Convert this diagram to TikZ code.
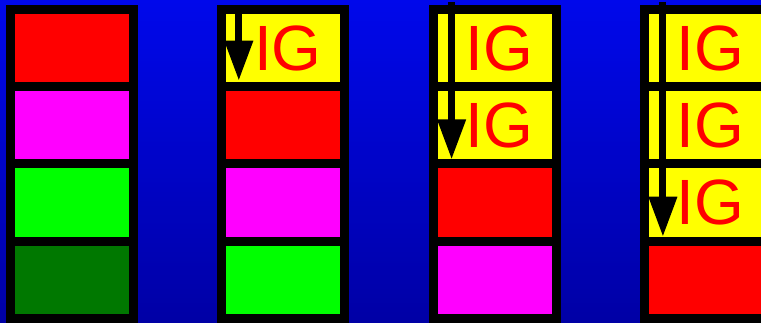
\documentclass[tikz,border=0pt]{standalone}
\usepackage{fontspec}
\setmainfont{Liberation Sans}
\usepackage{xcolor}
\usepackage{tikz}
\usetikzlibrary{arrows.meta,positioning,calc}
\definecolor{skytop}{RGB}{0,8,235}
\definecolor{skybot}{RGB}{0,0,165}
\definecolor{hotred}{RGB}{255,0,0}
\definecolor{hotpink}{RGB}{255,0,255}
\definecolor{lime}{RGB}{0,255,0}
\definecolor{forest}{RGB}{0,120,0}
\definecolor{lemon}{RGB}{255,255,0}
\tikzset{
  cell/.style={rectangle,draw=black,line width=9pt,outer sep=0pt,inner sep=0pt,
               minimum width=123pt,minimum height=77.25pt},
  igcell/.style={cell,fill=lemon,text=hotred,font=\fontsize{64}{64}\selectfont,
               execute at begin node={\kern9pt}},
  push/.style={-{Triangle[length=40pt,width=27pt]},line width=7pt,draw=black},
}

\begin{document}
\begin{tikzpicture}[x=1pt,y=-1pt]
  \useasboundingbox (0,0) rectangle (761,323);
  \clip (0,0) rectangle (761,323);
  \shade[top color=skytop,bottom color=skybot] (0,0) rectangle (761,323);

  % first stack
  \node[cell,fill=hotred,anchor=north west] (a1) at (10.5,9.5) {};
  \node[cell,fill=hotpink,below=0pt of a1] (a2) {};
  \node[cell,fill=lime,below=0pt of a2] (a3) {};
  \node[cell,fill=forest,below=0pt of a3] (a4) {};

  % second stack
  \node[igcell,anchor=north west] (b1) at (221.8,9.5) {IG};
  \node[cell,fill=hotred,below=0pt of b1] (b2) {};
  \node[cell,fill=hotpink,below=0pt of b2] (b3) {};
  \node[cell,fill=lime,below=0pt of b3] (b4) {};

  % third stack
  \node[igcell,anchor=north west] (c1) at (433.1,9.5) {IG};
  \node[igcell,below=0pt of c1] (c2) {IG};
  \node[cell,fill=hotred,below=0pt of c2] (c3) {};
  \node[cell,fill=hotpink,below=0pt of c3] (c4) {};

  % fourth stack
  \node[igcell,anchor=north west] (d1) at (644.4,9.5) {IG};
  \node[igcell,below=0pt of d1] (d2) {IG};
  \node[igcell,below=0pt of d2] (d3) {IG};
  \node[cell,fill=hotred,below=0pt of d3] (d4) {};

  \coordinate (btop) at ([xshift=17pt]b1.north west);
  \coordinate (ctop) at ([xshift=18.5pt,yshift=7.5pt]c1.north west);
  \coordinate (dtop) at ([xshift=18.5pt,yshift=7.5pt]d1.north west);

  \draw[push] (btop) -- ([xshift=17pt,yshift=6pt]b1.south west);
  \draw[push] (ctop) -- ([xshift=18.5pt,yshift=4.5pt]c2.south west);
  \draw[push] (dtop) -- ([xshift=18.5pt,yshift=4.5pt]d3.south west);
\end{tikzpicture}
\end{document}
